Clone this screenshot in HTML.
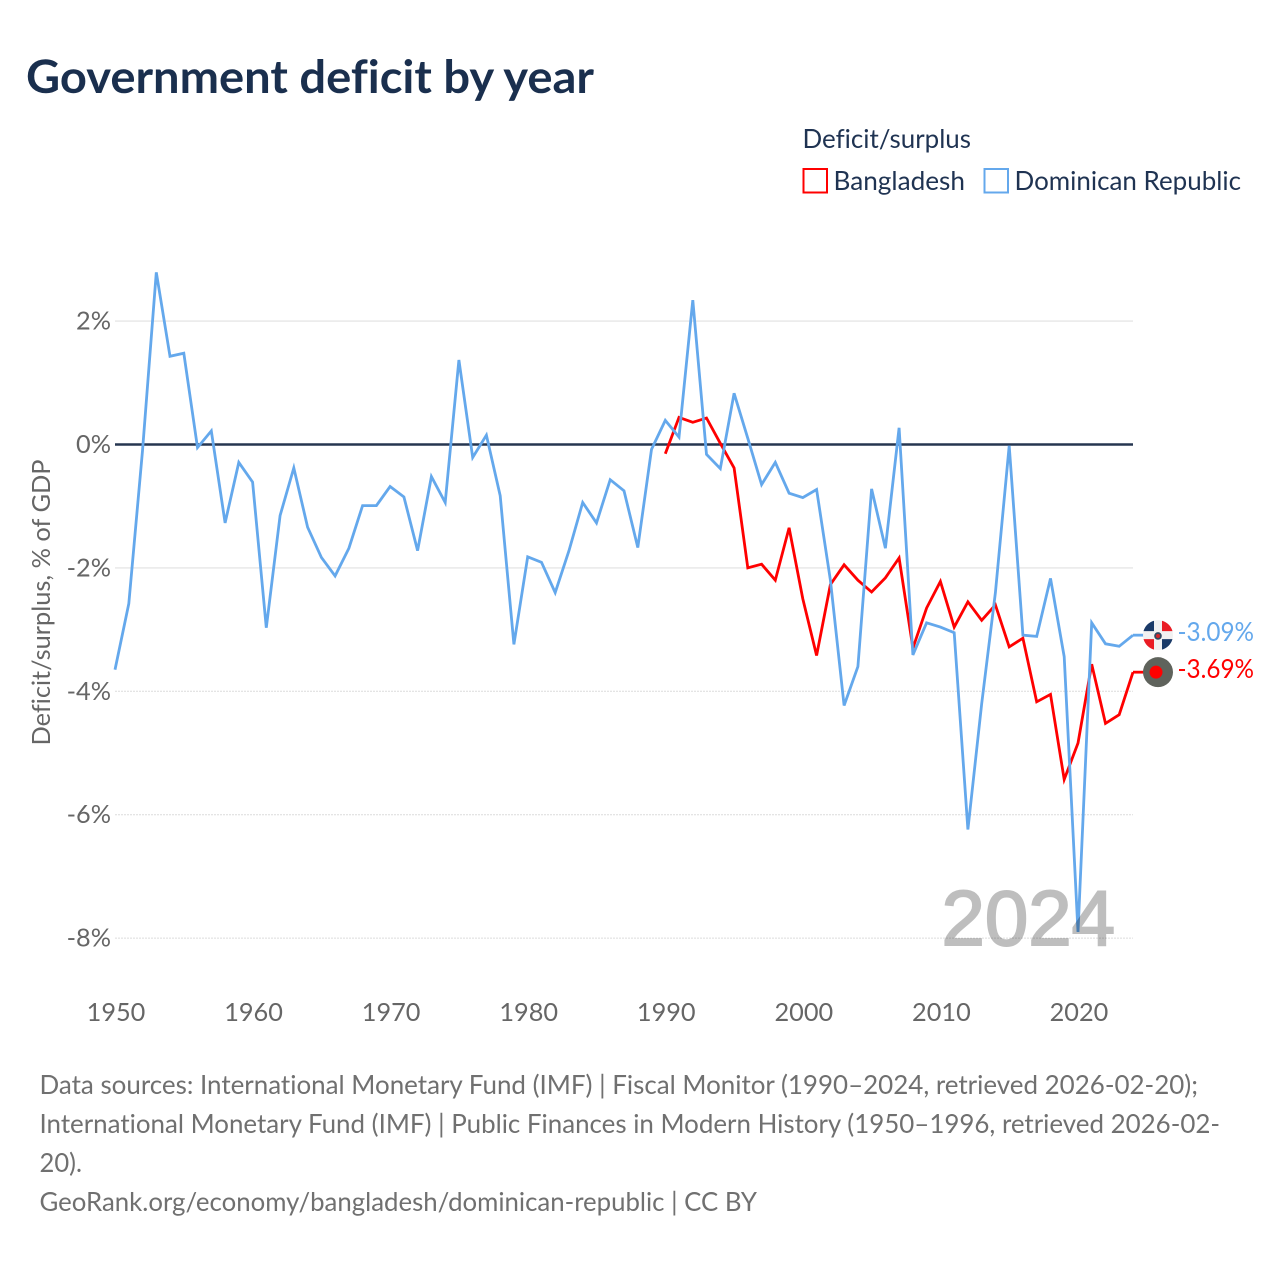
<!DOCTYPE html>
<html lang="en">
<head>
<meta charset="utf-8">
<title>Government deficit by year</title>
<style>
html,body{margin:0;padding:0;background:#fff;width:1280px;height:1280px;overflow:hidden}
svg{display:block;font-family:"Lato","Liberation Sans",sans-serif;font-variant-ligatures:none;font-feature-settings:"liga" 0,"clig" 0}
</style>
</head>
<body>
<svg id="chart" xmlns="http://www.w3.org/2000/svg" width="1280" height="1280" viewBox="0 0 1280 1280">
  <rect width="1280" height="1280" fill="#fff"/>
  <text x="26" y="93" font-size="46" font-weight="700" fill="#1a2f4e" textLength="568" lengthAdjust="spacingAndGlyphs">Government deficit by year</text>

  <g font-size="26" fill="#1f3352">
    <text x="802.5" y="148" textLength="168.5" lengthAdjust="spacingAndGlyphs">Deficit/surplus</text>
    <rect x="803.5" y="169" width="23.5" height="23.5" fill="none" stroke="#ff0000" stroke-width="2"/>
    <text x="833.5" y="190" textLength="131.5" lengthAdjust="spacingAndGlyphs">Bangladesh</text>
    <rect x="984.5" y="169" width="23.5" height="23.5" fill="none" stroke="#64a8ec" stroke-width="2"/>
    <text x="1014.5" y="190" textLength="226.5" lengthAdjust="spacingAndGlyphs">Dominican Republic</text>
  </g>

  <text transform="translate(50,602.5) rotate(-90)" text-anchor="middle" font-size="25.5" fill="#666" textLength="286" lengthAdjust="spacingAndGlyphs">Deficit/surplus, % of GDP</text>

  <g id="grid"></g>
  <g id="yticks"></g>
  <g id="xticks"></g>
  <g id="series"></g>
  <g id="endmarks"></g>

  <text x="941.5" y="945" font-size="78" fill="#000" stroke="#000" stroke-width="2" opacity="0.25" style="font-family:'Liberation Sans',sans-serif">2024</text>

  <g font-size="26" fill="#707070">
    <text x="39.5" y="1094" textLength="1158.5" lengthAdjust="spacingAndGlyphs">Data sources: International Monetary Fund (IMF) | Fiscal Monitor (1990–2024, retrieved 2026-02-20);</text>
    <text x="39.5" y="1133" textLength="1180.5" lengthAdjust="spacingAndGlyphs">International Monetary Fund (IMF) | Public Finances in Modern History (1950–1996, retrieved 2026-02-</text>
    <text x="39.5" y="1172" textLength="42.5" lengthAdjust="spacingAndGlyphs">20).</text>
    <text x="39.5" y="1211" textLength="717.5" lengthAdjust="spacingAndGlyphs">GeoRank.org/economy/bangladesh/dominican-republic | CC BY</text>
  </g>
</svg>
<script>
const yTickValues = [2, 0, -2, -4, -6, -8];
const solidGridValues = [2, -2];
const xTickValues = [1950, 1960, 1970, 1980, 1990, 2000, 2010, 2020];
const yearStart = 1950;
const yearEnd = 2024;
const dominicanStartYear = 1950;
const dominicanValues = [
  -3.65, -2.58, -0.1, 2.79, 1.43, 1.48, -0.05, 0.22, -1.27, -0.29,
  -0.61, -2.97, -1.15, -0.38, -1.34, -1.83, -2.13, -1.68, -0.99, -0.99,
  -0.68, -0.85, -1.72, -0.52, -0.94, 1.37, -0.21, 0.15, -0.83, -3.24,
  -1.82, -1.91, -2.4, -1.72, -0.94, -1.27, -0.57, -0.75, -1.67, -0.08,
  0.39, 0.12, 2.34, -0.16, -0.39, 0.83, 0.1, -0.65, -0.29, -0.79,
  -0.86, -0.73, -2.2, -4.23, -3.6, -0.72, -1.68, 0.27, -3.41, -2.89,
  -2.96, -3.05, -6.24, -4.2, -2.4, -0.02, -3.09, -3.11, -2.17, -3.44,
  -7.9, -2.89, -3.23, -3.27, -3.09
];
const bangladeshStartYear = 1990;
const bangladeshValues = [
  -0.15, 0.44, 0.36, 0.43, 0.02, -0.38, -2.0, -1.94, -2.2, -1.35,
  -2.5, -3.42, -2.27, -1.95, -2.2, -2.39, -2.16, -1.84, -3.3, -2.65,
  -2.22, -2.96, -2.55, -2.85, -2.6, -3.28, -3.14, -4.17, -4.05, -5.43,
  -4.84, -3.56, -4.52, -4.38, -3.69
];

const NS = 'http://www.w3.org/2000/svg';
const plotLeft = 115, plotRight = 1133, zeroY = 444.5, pxPerUnit = 61.7;
const blue = '#64a8ec', red = '#ff0000';

function xScale(year) {
  return plotLeft + (year - yearStart) * (plotRight - plotLeft) / (yearEnd - yearStart);
}
function yScale(v) {
  return zeroY - v * pxPerUnit;
}
function make(tag, parent, attrs, text) {
  const el = document.createElementNS(NS, tag);
  for (const k in attrs) el.setAttribute(k, attrs[k]);
  if (text !== undefined) el.textContent = text;
  parent.appendChild(el);
  return el;
}
function fmtTick(v) {
  return v + '%';
}

const gridG = document.getElementById('grid');
const yG = document.getElementById('yticks');
const xG = document.getElementById('xticks');
const seriesG = document.getElementById('series');
const endG = document.getElementById('endmarks');

yTickValues.forEach(function (v) {
  const isZero = v === 0;
  const isSolid = solidGridValues.indexOf(v) >= 0;
  const attrs = {
    x1: plotLeft, x2: plotRight, y1: yScale(v), y2: yScale(v),
    stroke: isZero ? '#263650' : (isSolid ? '#ececec' : '#dcdcdc'),
    'stroke-width': isZero ? 2.4 : (isSolid ? 1.8 : 1)
  };
  if (!isZero && !isSolid) attrs['stroke-dasharray'] = '2 1';
  const line = make('line', gridG, attrs);
  
  
  const label = make('text', yG, {
    x: 111, y: yScale(v) + 8.5, 'text-anchor': 'end', 'font-size': 25.3, fill: '#666'
  }, fmtTick(v));
  
  
});

xTickValues.forEach(function (yr) {
  const label = make('text', xG, {
    x: xScale(yr) + 1, y: 1021, 'text-anchor': 'middle', 'font-size': 25.3, fill: '#666'
  }, String(yr));
  
  
});

function pointsFor(startYear, values) {
  return values.map(function (v, i) {
    return xScale(startYear + i).toFixed(1) + ',' + yScale(v).toFixed(1);
  }).join(' ');
}

const redLine = make('polyline', seriesG, {
  points: pointsFor(bangladeshStartYear, bangladeshValues),
  fill: 'none', stroke: red, 'stroke-width': 2.8, 'stroke-linejoin': 'miter'
});



const blueLine = make('polyline', seriesG, {
  points: pointsFor(dominicanStartYear, dominicanValues),
  fill: 'none', stroke: blue, 'stroke-width': 2.8, 'stroke-linejoin': 'miter'
});



const domLast = dominicanValues[dominicanValues.length - 1];
const banLast = bangladeshValues[bangladeshValues.length - 1];
const domY = yScale(domLast);
const banY = yScale(banLast);
const iconX = 1158;

const connDom = make('line', endG, { x1: plotRight, x2: iconX - 12, y1: domY, y2: domY, stroke: blue, 'stroke-width': 2.8 });


const connBan = make('line', endG, { x1: plotRight, x2: iconX - 12, y1: banY, y2: banY, stroke: red, 'stroke-width': 2.8 });



const flagDom = make('g', endG, { transform: 'translate(' + iconX + ',' + domY + ')' });


make('circle', flagDom, { r: 15, fill: '#f1f1f1' });
make('path', flagDom, { d: 'M-4,-4 L-4,-14.46 A15,15 0 0 0 -14.46,-4 Z', fill: '#1a3a68' });
make('path', flagDom, { d: 'M4,-4 L4,-14.46 A15,15 0 0 1 14.46,-4 Z', fill: '#ea1c24' });
make('path', flagDom, { d: 'M-4,4 L-4,14.46 A15,15 0 0 1 -14.46,4 Z', fill: '#ea1c24' });
make('path', flagDom, { d: 'M4,4 L4,14.46 A15,15 0 0 0 14.46,4 Z', fill: '#1a3a68' });
make('circle', flagDom, { r: 3.8, cy: 0.8, fill: '#34485f' });
make('circle', flagDom, { r: 2, cy: 0.8, fill: '#d4262c' });

const flagBan = make('g', endG, { transform: 'translate(' + iconX + ',' + banY + ')' });


make('circle', flagBan, { r: 15, fill: '#5f635c' });
make('circle', flagBan, { r: 6.5, cx: -2, fill: red });

const labelDom = make('text', endG, { x: 1177.5, y: domY + 6, 'font-size': 26, fill: blue, textLength: 76.5, lengthAdjust: 'spacingAndGlyphs' }, domLast.toFixed(2) + '%');


const labelBan = make('text', endG, { x: 1177.5, y: banY + 6, 'font-size': 26, fill: red, textLength: 76.5, lengthAdjust: 'spacingAndGlyphs' }, banLast.toFixed(2) + '%');


</script>
</body>
</html>
